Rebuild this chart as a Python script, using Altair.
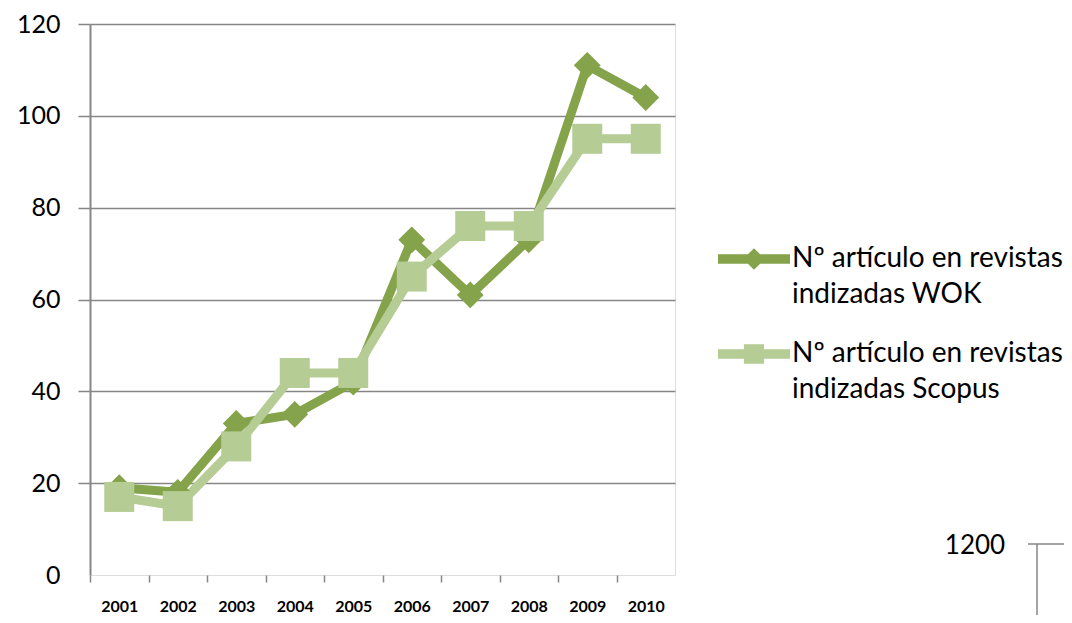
import altair as alt
import pandas as pd

years = ["2001", "2002", "2003", "2004", "2005", "2006", "2007", "2008", "2009", "2010"]
wok = [19, 18, 33, 35, 42, 73, 61, 73, 111, 104]
scopus = [17, 15, 28, 44, 44, 65, 76, 76, 95, 95]
series_names = ["Nº artículo en revistas indizadas WOK",
                "Nº artículo en revistas indizadas Scopus"]
series_colors = ["#84A34A", "#B5CC95"]
y_ticks = [0, 20, 40, 60, 80, 100, 120]

rows = []
for i, y in enumerate(years):
    rows.append({"year": y, "series": series_names[0], "value": wok[i]})
    rows.append({"year": y, "series": series_names[1], "value": scopus[i]})
df = pd.DataFrame(rows)

GRAY = "#868686"
FONT = "Lato"

x_enc = alt.X(
    "year:O",
    bandPosition=0.5,
    scale=alt.Scale(type="band", paddingInner=0, paddingOuter=0),
    axis=alt.Axis(
        title=None, grid=False, domain=False, ticks=True, tickBand="extent",
        tickSize=7, tickColor=GRAY, tickWidth=1.5,
        tickOpacity=alt.condition("datum.value == '2010'", alt.value(0), alt.value(1)),
        labelFont=FONT, labelFontSize=16, labelColor="#000000", labelFontWeight="bold",
        labelPadding=16, labelAngle=0, labelLineHeight=16,
    ),
)
y_enc = alt.Y(
    "value:Q",
    scale=alt.Scale(domain=[0, 120], nice=False, zero=True),
    axis=alt.Axis(
        title=None, values=y_ticks, grid=True, gridColor=GRAY, gridWidth=1.5,
        gridOpacity=alt.condition("datum.value == 0", alt.value(0), alt.value(1)),
        tickColor=GRAY, tickSize=12, tickWidth=1.5,
        tickOpacity=alt.condition("datum.value == 0", alt.value(0), alt.value(1)),
        domain=True, domainColor=GRAY, domainWidth=2,
        labelFont=FONT, labelFontSize=25, labelColor="#000000", labelPadding=18,
        labelLineHeight=25,
    ),
)

# legend symbols: a thick line with the series marker in the middle
sym_wok = "M-1,-0.13 L-0.17,-0.13 L0,-0.3 L0.17,-0.13 L1,-0.13 L1,0.13 L0.17,0.13 L0,0.3 L-0.17,0.13 L-1,0.13 Z"
sym_sco = "M-1,-0.13 L-0.28,-0.13 L-0.28,-0.27 L0.28,-0.27 L0.28,-0.13 L1,-0.13 L1,0.13 L0.28,0.13 L0.28,0.27 L-0.28,0.27 L-0.28,0.13 L-1,0.13 Z"

legend = alt.Legend(
    title=None, orient="none", legendX=628, legendY=199,
    symbolSize=5184, symbolStrokeWidth=0,
    labelFont=FONT, labelFontSize=28, labelColor="#000000",
    labelOffset=2, labelLimit=400, rowPadding=9,
    labelExpr="[slice(datum.label, 0, 23), slice(datum.label, 24)]",
)

# legend-only layer (no rows drawn)
legend_layer = alt.Chart(df).transform_filter("false").mark_point(filled=True, opacity=1).encode(
    x=x_enc, y=y_enc,
    color=alt.Color("series:N", scale=alt.Scale(domain=series_names, range=series_colors), legend=legend),
    shape=alt.Shape("series:N", scale=alt.Scale(domain=series_names, range=[sym_wok, sym_sco]), legend=legend),
)

line_wok = alt.Chart(df).transform_filter(alt.datum.series == series_names[0]).mark_line(
    strokeWidth=9, strokeJoin="round", strokeCap="round", color=series_colors[0]
).encode(x=x_enc, y=y_enc)
line_sco = alt.Chart(df).transform_filter(alt.datum.series == series_names[1]).mark_line(
    strokeWidth=9, strokeJoin="round", strokeCap="round", color=series_colors[1]
).encode(x=x_enc, y=y_enc)

pts_wok = alt.Chart(df).transform_filter(
    alt.datum.series == series_names[0]
).mark_point(shape="diamond", filled=True, size=720, opacity=1, color=series_colors[0]).encode(
    x=x_enc, y=y_enc
)
pts_sco = alt.Chart(df).transform_filter(
    alt.datum.series == series_names[1]
).mark_point(shape="square", filled=True, size=900, opacity=1, color=series_colors[1]).encode(
    x=x_enc, y=y_enc
)

# fragment of a neighbouring chart visible at the bottom-right corner
frag_text = alt.Chart(pd.DataFrame({"t": ["1200"]})).mark_text(
    font=FONT, fontSize=26, color="#000000", align="center", baseline="middle"
).encode(text="t:N", x=alt.value(885), y=alt.value(522))
frag_h = alt.Chart(pd.DataFrame({"a": [0]})).mark_rule(color=GRAY, strokeWidth=1.5).encode(
    x=alt.value(938), x2=alt.value(990), y=alt.value(520)
)
frag_v = alt.Chart(pd.DataFrame({"a": [0]})).mark_rule(color=GRAY, strokeWidth=1.5).encode(
    x=alt.value(947), y=alt.value(520), y2=alt.value(620)
)

chart = alt.layer(
    legend_layer, line_wok, line_sco, pts_wok, pts_sco, frag_text, frag_h, frag_v
).properties(
    width=585, height=551,
    autosize=alt.AutoSizeParams(type="none"),
    padding={"left": 82, "top": 16, "right": 389, "bottom": 40},
).configure_view(stroke=None).configure(style={"guide-label": {"lineHeight": 36}})

chart.save("out.html", embed_options={"renderer": "svg", "actions": False})
